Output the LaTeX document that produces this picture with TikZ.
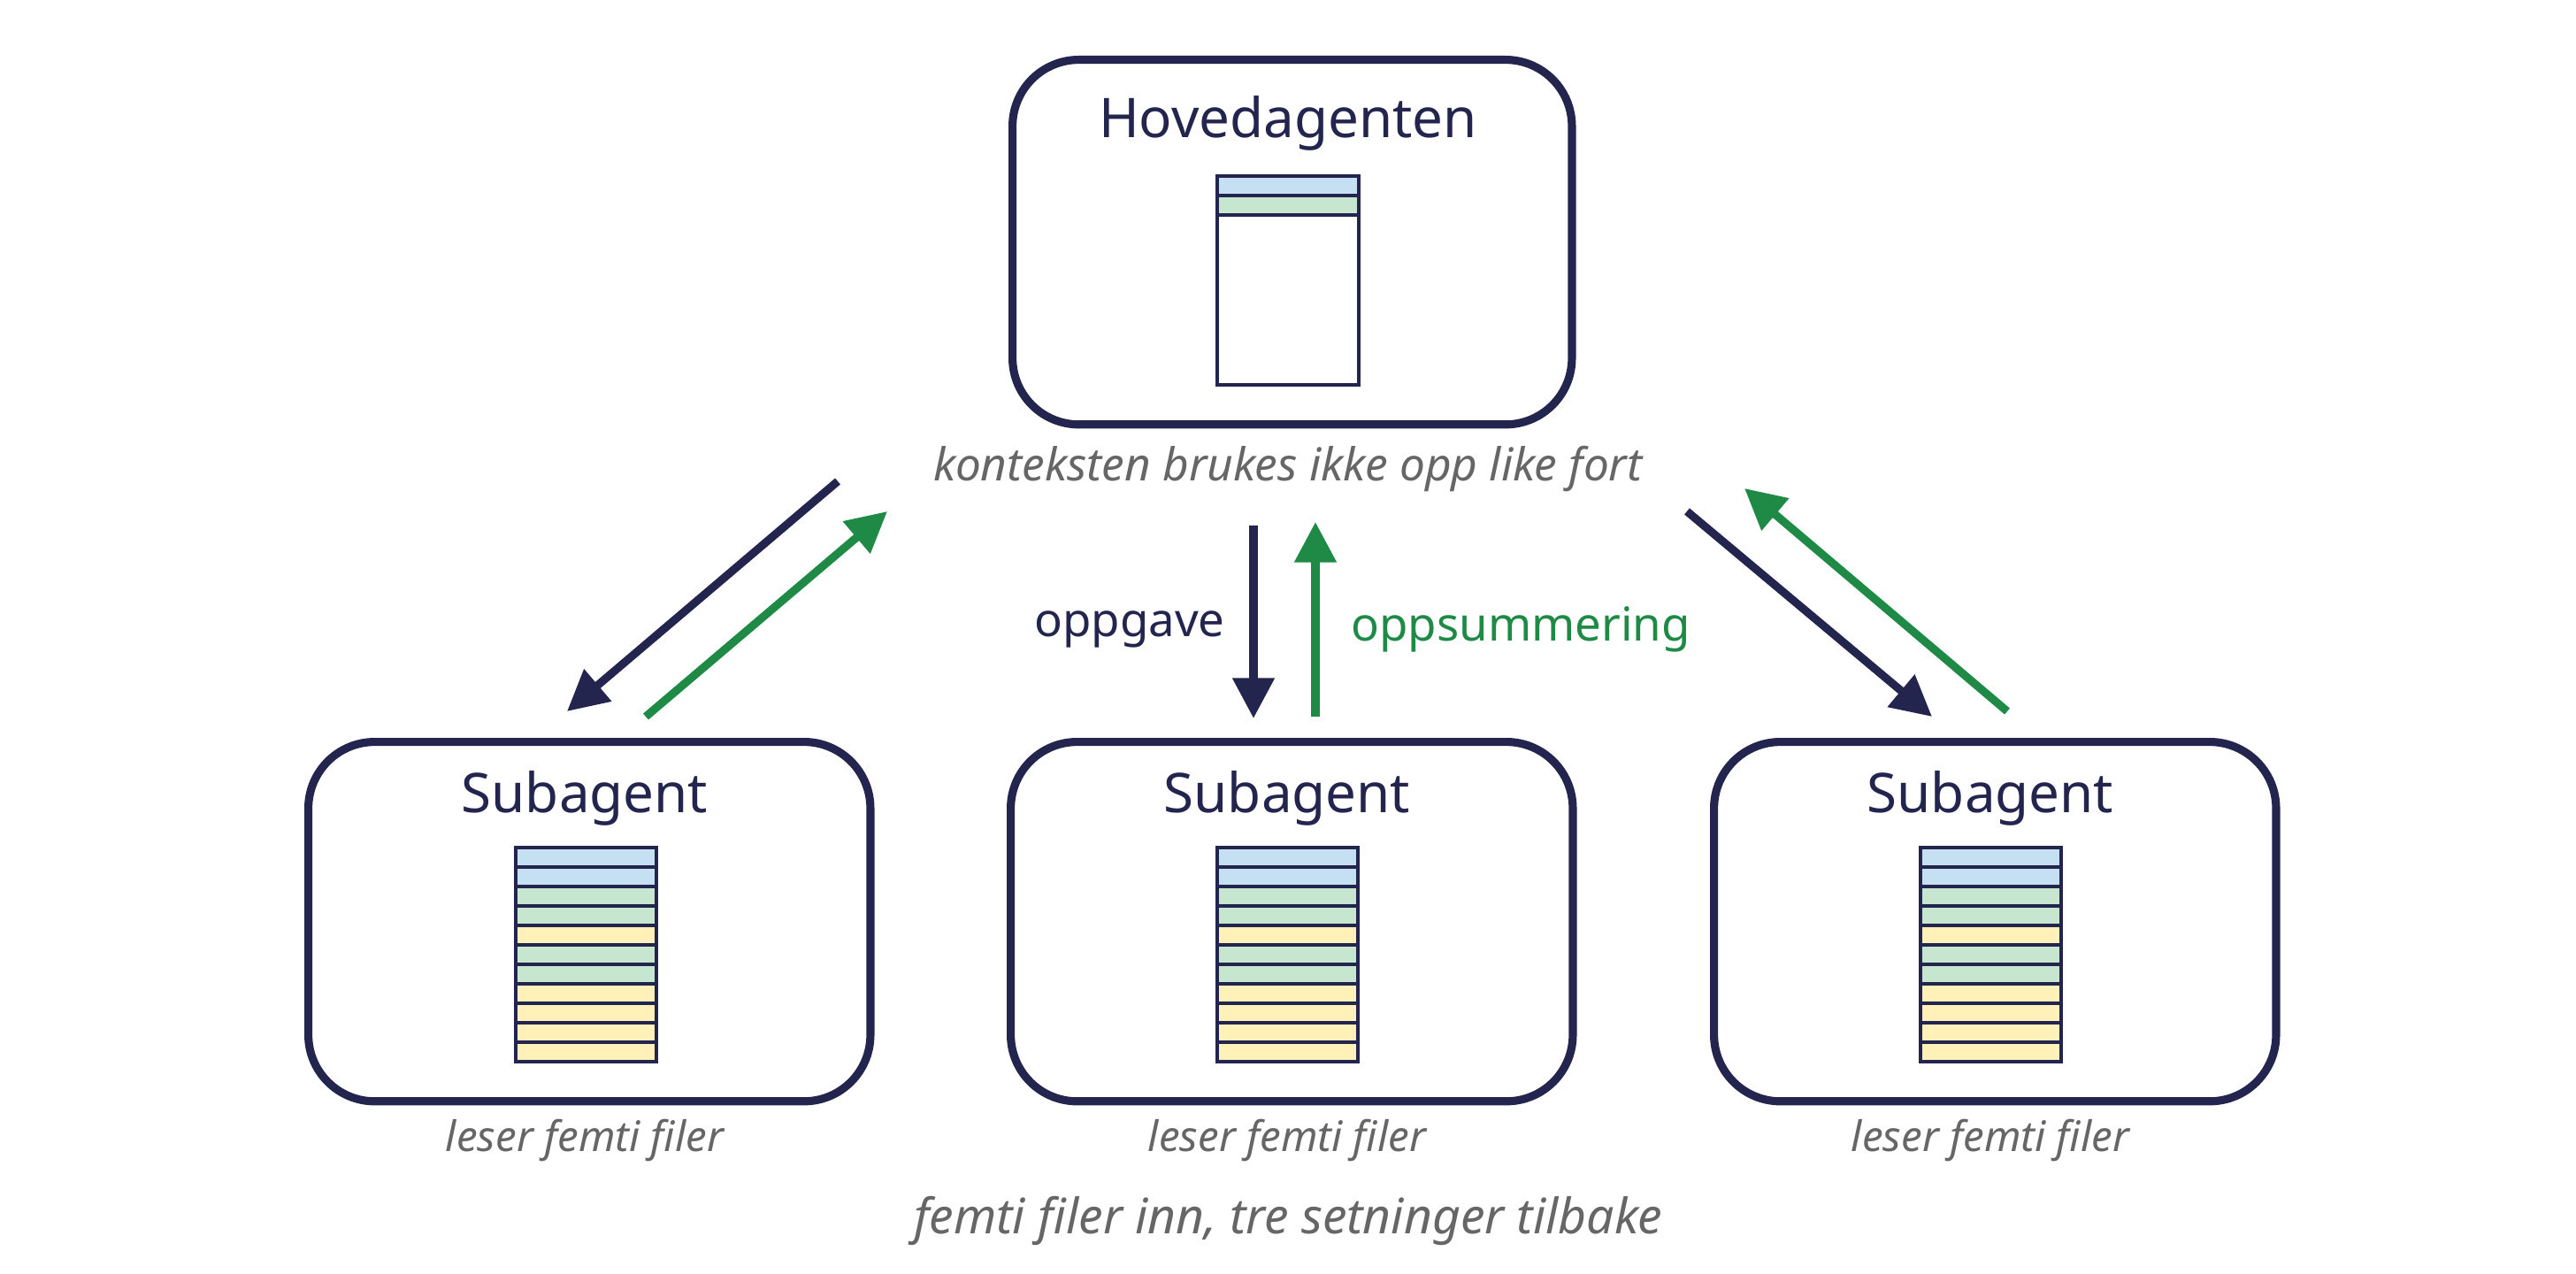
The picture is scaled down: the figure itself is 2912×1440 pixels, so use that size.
\documentclass[tikz,border=0pt]{standalone}
\usepackage{fontspec}
\setmainfont{Noto Sans}
\usetikzlibrary{arrows.meta}
\definecolor{navy}{HTML}{23254F}
\definecolor{grn}{HTML}{1E8A45}
\definecolor{gry}{HTML}{666666}
\definecolor{cb}{HTML}{C5E0F3}
\definecolor{cg}{HTML}{C7E6CF}
\definecolor{cy}{HTML}{FFF1B8}
\begin{document}
\begin{tikzpicture}[x=0.01cm,y=-0.01cm,
  box/.style={draw=navy,line width=2.6pt,rounded corners=0.75cm,anchor=north west,inner sep=0},
  title/.style={text=navy,font=\fontsize{17.6}{21}\selectfont},
  caption/.style={text=gry,font=\itshape\fontsize{14.6}{17}\selectfont},
  small/.style={text=gry,font=\itshape\fontsize{13.5}{16}\selectfont},
  row/.style={draw=navy,line width=1.1pt},
  arr/.style={line width=2.6pt,-{Triangle[length=13pt,width=13pt]}},
  lbl/.style={font=\fontsize{15}{18}\selectfont}]
\useasboundingbox (0,0) rectangle (2912,1440);
% main box
\node[box,minimum width=6.32cm,minimum height=4.12cm] (main) at (1140,63) {};
\node[title] (mt) at (1456,139) {Hovedagenten};
\fill[cb] (1376,199) rectangle (1536,221);
\fill[cg] (1376,221) rectangle (1536,243);
\draw[row] (1376,199) rectangle (1536,435);
\draw[row] (1376,221) -- (1536,221) (1376,243) -- (1536,243);
\node[caption] (mc) at (1456,530) {konteksten brukes ikke opp like fort};
% subagents
\foreach \n/\bx/\sx in {l/344/583, m/1138/1376, r/1933/2171}{
  \node[box,minimum width=6.35cm,minimum height=4.06cm] (s\n) at (\bx,834) {};
  \node[title] (t\n) at (\bx+317,902) {Subagent};
  \foreach \c [count=\i from 0] in {cb,cb,cg,cg,cy,cg,cg,cy,cy,cy,cy}{
    \fill[\c] (\sx,958+22*\i) rectangle (\sx+159,980+22*\i);
    \draw[row] (\sx,958+22*\i) rectangle (\sx+159,980+22*\i);
  }
  \node[small] (c\n) at (\bx+317,1289) {leser femti filer};
}
\node[caption,font=\itshape\fontsize{15.7}{18}\selectfont] (bot) at (1456,1380) {femti filer inn, tre setninger tilbake};
% arrow coordinates
\coordinate (a1) at (947,544); \coordinate (a2) at (641,804);
\coordinate (b1) at (730,810); \coordinate (b2) at (1003,578);
\coordinate (c1) at (1417,594); \coordinate (c2) at (1417,812);
\coordinate (d1) at (1487,810); \coordinate (d2) at (1487,590);
\coordinate (e1) at (1907,578); \coordinate (e2) at (2184,810);
\coordinate (f1) at (2269,804); \coordinate (f2) at (1972,552);
\draw[arr,navy] (a1) -- (a2);
\draw[arr,grn] (b1) -- (b2);
\draw[arr,navy] (c1) -- (c2);
\draw[arr,grn] (d1) -- (d2);
\draw[arr,navy] (e1) -- (e2);
\draw[arr,grn] (f1) -- (f2);
\node[lbl,text=navy,anchor=east] (lo) at (1397,711) {oppgave};
\node[lbl,text=grn,anchor=west] (ls) at (1515,711) {oppsummering};
\end{tikzpicture}
\end{document}
